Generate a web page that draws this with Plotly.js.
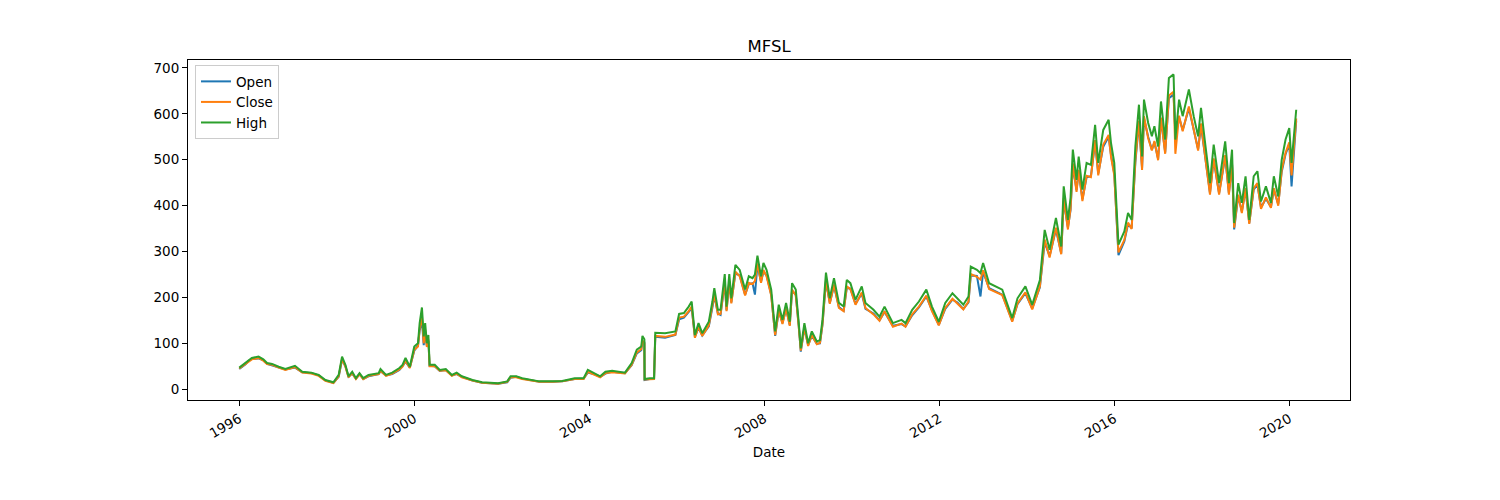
<!DOCTYPE html>
<html>
<head>
<meta charset="utf-8">
<script src="https://cdn.plot.ly/plotly-3.0.1.min.js"></script>
<style>
  body { margin: 0; background: #fff; }
  #chart { width: 1500px; height: 500px; }
</style>
</head>
<body>
<div id="chart"></div>
<script>
// valores (aprox.)
const dates = [
  '1996-01-01','1996-02-20','1996-03-20','1996-04-15','1996-06-10','1996-07-20','1996-08-20','1996-10-01','1996-11-25',
  '1997-01-20','1997-04-10','1997-06-10','1997-08-25','1997-10-25','1997-12-20',
  '1998-02-25','1998-04-10','1998-05-08','1998-06-05','1998-07-01','1998-08-01','1998-09-01','1998-10-01','1998-11-01','1998-12-15',
  '1999-03-10','1999-03-25','1999-05-10','1999-07-01','1999-08-30','1999-09-25','1999-10-20','1999-11-25',
  '2000-01-01','2000-02-01','2000-02-15','2000-03-05','2000-03-20','2000-04-01','2000-04-15','2000-04-28','2000-05-08','2000-06-20',
  '2000-08-01','2000-09-20','2000-11-10','2000-12-20',
  '2001-02-01','2001-05-01','2001-07-20','2001-12-01',
  '2002-02-15','2002-03-15','2002-05-01','2002-06-20','2002-09-01','2002-11-10',
  '2003-03-01','2003-05-20','2003-09-01','2003-11-15','2003-12-20',
  '2004-02-20','2004-04-01','2004-05-15','2004-07-10','2004-10-25','2004-12-20',
  '2005-02-01','2005-03-10','2005-03-20','2005-04-05','2005-04-07','2005-05-20','2005-06-25','2005-07-05','2005-09-25','2005-12-20',
  '2006-01-20','2006-03-01','2006-04-10','2006-05-05','2006-06-01','2006-07-01','2006-08-01','2006-09-25','2006-10-25','2006-11-10','2006-12-10',
  '2007-01-01','2007-02-05','2007-02-20','2007-03-15','2007-04-01','2007-05-05','2007-06-10','2007-07-25','2007-08-25','2007-09-25',
  '2007-10-15','2007-11-05','2007-12-05','2007-12-25',
  '2008-01-20','2008-02-28','2008-04-01','2008-05-01','2008-06-01','2008-07-01','2008-08-01','2008-08-20','2008-09-20','2008-10-15',
  '2008-11-01','2008-12-01',
  '2009-01-01','2009-02-01','2009-03-15','2009-04-10','2009-05-01','2009-05-30','2009-07-01','2009-08-05','2009-09-15','2009-10-25',
  '2009-11-20','2009-12-20',
  '2010-02-01','2010-03-25','2010-04-25','2010-07-01','2010-08-20','2010-10-01','2010-12-10',
  '2011-02-20','2011-03-25','2011-05-20','2011-07-15','2011-09-15','2011-11-01','2011-12-28',
  '2012-02-20','2012-04-20','2012-06-01','2012-07-20','2012-09-01','2012-09-20','2012-11-10','2012-12-10',
  '2013-01-01','2013-02-20','2013-06-10','2013-09-01','2013-10-15','2013-12-20',
  '2014-02-15','2014-04-20','2014-05-30','2014-07-10','2014-09-01','2014-10-15','2014-11-05','2014-12-10',
  '2015-01-01','2015-01-20','2015-02-20','2015-03-10','2015-04-10','2015-05-15','2015-06-20','2015-07-25','2015-08-20','2015-10-01',
  '2015-11-15','2015-12-05',
  '2016-01-01','2016-01-20','2016-02-05','2016-03-25','2016-04-25','2016-05-25','2016-06-25','2016-07-25','2016-08-20','2016-09-05',
  '2016-10-10','2016-11-10','2016-12-01',
  '2017-01-01','2017-01-25','2017-03-01','2017-04-01','2017-05-10','2017-05-25','2017-06-25','2017-07-25','2017-09-15','2017-10-25',
  '2017-12-01','2017-12-25',
  '2018-01-25','2018-03-10','2018-04-10','2018-05-25','2018-07-15','2018-08-15','2018-09-10','2018-09-28','2018-11-01','2018-12-01',
  '2019-01-01','2019-02-01','2019-03-10','2019-04-10','2019-05-10','2019-06-20','2019-08-01','2019-08-25','2019-10-01','2019-10-30',
  '2019-12-01',
  '2020-01-01','2020-01-20','2020-02-28'
];

const high = [
  47,57,64,68,71,65,57,55,49,
  44,51,38,36,31,20,
  15,31,71,53,28,38,24,35,24,31,
  35,44,31,36,46,53,68,49,
  93,100,144,178,115,144,100,118,53,53,
  42,44,31,36,
  28,20,15,13,
  17,28,28,24,20,17,
  17,18,24,24,42,
  33,28,38,40,36,57,
  86,93,116,109,22,24,24,123,122,126,
  164,166,180,191,118,144,122,147,191,220,173,
  173,251,180,251,198,271,260,217,246,242,
  250,291,246,275,
  260,217,126,184,151,188,147,231,217,144,
  89,144,
  100,126,104,107,151,254,198,242,188,180,
  238,231,
  195,224,188,173,158,180,144,
  151,144,173,191,217,180,147,
  188,209,198,184,202,267,260,253,
  275,231,217,155,198,224,
  184,238,347,304,373,311,442,369,
  417,522,456,507,435,493,489,576,493,565,
  587,536,
  493,391,315,344,384,369,529,620,507,631,
  580,551,573,
  529,627,544,678,686,544,631,595,653,595,
  551,613,
  544,449,533,449,540,449,522,362,449,406,
  464,369,464,475,409,442,406,464,420,500,
  544,
  569,493,609
];

const close = [
  45,55,61,65,68,62,55,53,47,
  42,48,36,34,29,18,
  13,28,66,49,26,35,22,32,22,29,
  33,40,29,34,43,49,62,46,
  86,93,132,160,100,130,92,108,50,50,
  40,41,29,34,
  26,19,14,12,
  16,26,26,22,19,16,
  16,17,22,22,38,
  31,26,35,37,34,53,
  80,87,106,100,21,22,22,116,114,119,
  156,158,170,180,112,136,116,139,180,206,163,
  164,235,170,236,187,256,246,204,232,229,
  236,274,232,260,
  246,204,118,172,142,176,138,217,204,135,
  84,135,
  94,118,98,101,142,238,186,228,177,170,
  224,218,
  184,211,177,163,149,170,136,
  143,136,163,180,204,170,139,
  177,197,187,174,191,251,245,239,
  259,218,205,147,187,211,
  174,224,326,287,352,294,416,348,
  394,492,430,478,410,465,462,543,466,533,
  554,506,
  466,369,298,325,363,349,499,585,478,595,
  547,520,541,
  499,592,513,640,648,513,596,562,616,562,
  520,579,
  514,424,503,424,510,424,493,352,424,384,
  438,360,438,449,393,418,395,438,400,478,
  515,
  538,466,590
];

const open = [
  44,54,62,66,67,63,55,52,47,
  43,47,37,35,30,19,
  14,27,64,50,27,34,23,33,22,28,
  33,39,30,33,42,50,60,47,
  84,95,128,150,96,125,95,105,51,50,
  40,42,30,33,
  27,19,14,12,
  15,25,27,23,19,16,
  16,17,22,23,36,
  32,27,34,38,35,52,
  78,85,104,102,20,22,23,114,112,118,
  152,156,168,176,114,134,117,137,178,204,165,
  162,232,172,233,189,252,248,206,229,231,
  206,270,234,256,
  248,206,116,170,144,174,140,214,206,137,
  82,133,
  96,116,99,100,140,235,188,225,179,171,
  221,219,
  186,208,175,165,150,168,138,
  142,137,161,178,202,172,140,
  175,195,189,175,189,248,247,202,
  256,220,206,149,185,209,
  176,222,320,290,348,296,410,352,
  390,486,434,474,414,462,464,538,470,528,
  550,510,
  470,372,292,322,360,351,494,580,482,590,
  550,522,538,
  502,588,516,634,642,560,592,565,612,565,
  523,574,
  517,428,500,427,506,427,490,348,421,387,
  435,362,435,446,396,415,397,435,403,474,
  512,
  534,442,585
];

const seriesNames = ['Open', 'Close', 'High'];
const seriesColors = ['#1f77b4', '#ff7f0e', '#2ca02c'];
const yearTicks = ['1996-01-01','2000-01-01','2004-01-01','2008-01-01','2012-01-01','2016-01-01','2020-01-01'];
const yearLabels = ['1996','2000','2004','2008','2012','2016','2020'];

const allSeries = [open, close, high];
const traces = allSeries.map(function(vals, i) {
  return {
    x: dates, y: vals,
    type: 'scatter', mode: 'lines',
    name: seriesNames[i],
    line: { color: seriesColors[i], width: 2 }
  };
});

const eixo = {
  showline: true, mirror: true, linecolor: '#000', linewidth: 1,
  ticks: 'outside', ticklen: 5, tickcolor: '#000', tickwidth: 1,
  showgrid: false, zeroline: false,
  tickfont: { size: 13.5, color: '#000' }
};

Plotly.newPlot('chart', traces, {
  width: 1500, height: 500,
  font: { family: 'DejaVu Sans, sans-serif', color: '#000' },
  paper_bgcolor: '#fff', plot_bgcolor: '#fff',
  margin: { l: 188, r: 150, t: 60, b: 100 },
  title: { text: 'MFSL', font: { size: 16.5 }, x: 0.5127, xanchor: 'center', y: 0.908, yref: 'container', yanchor: 'middle' },
  xaxis: Object.assign({}, eixo, {
    type: 'date',
    range: ['1994-10-30', '2021-05-22'],
    tickvals: yearTicks, ticktext: yearLabels,
    tickangle: -30,
    title: { text: 'Date', font: { size: 13.5 }, standoff: 7 }
  }),
  yaxis: Object.assign({}, eixo, {
    range: [-23.6, 717.4],
    tickvals: [0,100,200,300,400,500,600,700]
  }),
  showlegend: true,
  legend: {
    x: 0.006, y: 0.985, xanchor: 'left', yanchor: 'top',
    bgcolor: '#fff', bordercolor: '#cccccc', borderwidth: 1,
    font: { size: 13.5 },
    tracegroupgap: 0
  }
}, { displayModeBar: false });
</script>
</body>
</html>
